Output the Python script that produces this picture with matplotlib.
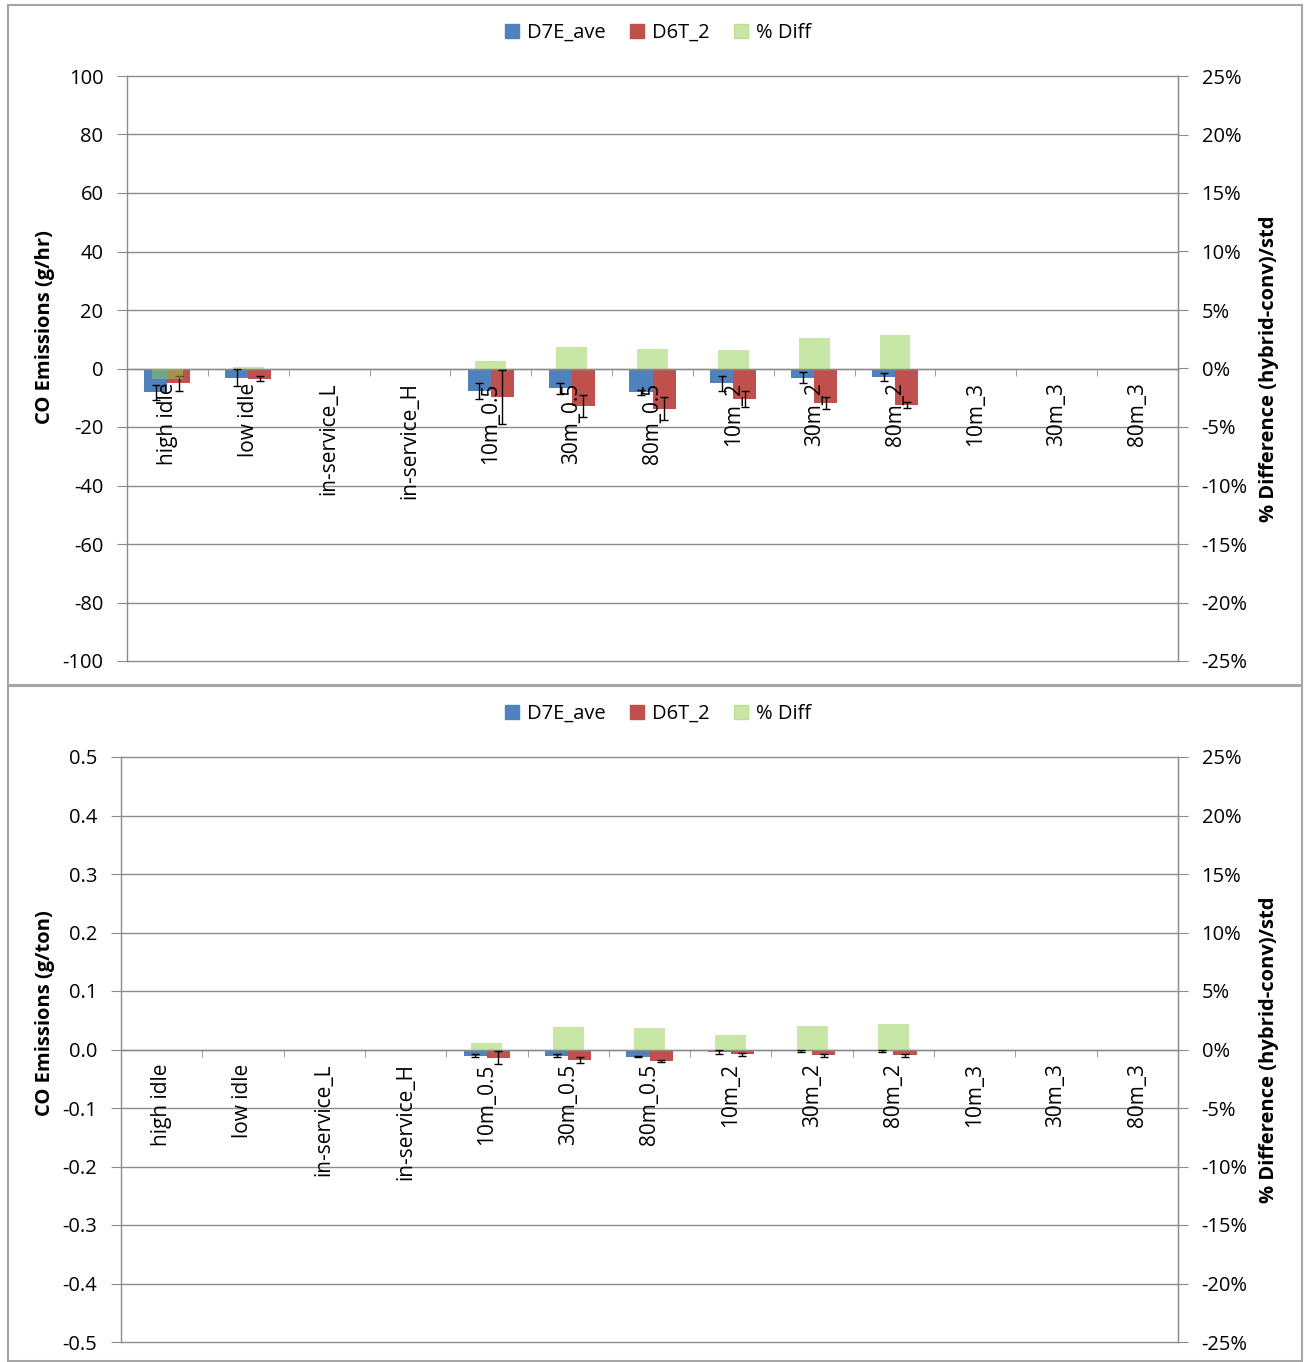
import numpy as np
import matplotlib
matplotlib.use("Agg")
import matplotlib.pyplot as plt
from matplotlib.patches import Rectangle, Patch
from matplotlib.ticker import PercentFormatter, MultipleLocator, FixedLocator

plt.rcParams['font.family'] = ['Open Sans', 'DejaVu Sans']
plt.rcParams['axes.unicode_minus'] = False

# ----------------------------------- data -----------------------------------
categories = ['high idle', 'low idle', 'in-service_L', 'in-service_H',
              '10m_0.5', '30m_0.5', '80m_0.5', '10m_2', '30m_2', '80m_2',
              '10m_3', '30m_3', '80m_3']
nan = np.nan

# top chart, g/hr
d7e_hr = [-8.2, -3.2, nan, nan, -7.6, -6.8, -8.2, -5.1, -3.2, -3.0, nan, nan, nan]
d7e_hr_err = [2.6, 2.9, nan, nan, 2.7, 2.0, 1.0, 2.6, 1.9, 1.3, nan, nan, nan]
d6t_hr = [-5.0, -3.5, nan, nan, -9.7, -12.8, -13.7, -10.5, -11.9, -12.4, nan, nan, nan]
d6t_hr_err = [2.6, 0.85, nan, nan, 9.3, 3.7, 4.0, 2.7, 2.1, 1.0, nan, nan, nan]
diff_hr = [-0.009, 0.0011, nan, nan, 0.006, 0.0182, 0.0165, 0.016, 0.026, 0.0285, nan, nan, nan]

# bottom chart, g/ton
d7e_ton = [nan, nan, nan, nan, -0.0103, -0.0103, -0.0125, -0.0046, -0.003, -0.003, nan, nan, nan]
d7e_ton_err = [nan, nan, nan, nan, 0.003, 0.002, 0.001, 0.003, 0.002, 0.002, nan, nan, nan]
d6t_ton = [nan, nan, nan, nan, -0.014, -0.018, -0.020, -0.0085, -0.010, -0.010, nan, nan, nan]
d6t_ton_err = [nan, nan, nan, nan, 0.011, 0.005, 0.002, 0.003, 0.003, 0.002, nan, nan, nan]
diff_ton = [nan, nan, nan, nan, 0.0057, 0.0194, 0.018, 0.012, 0.0205, 0.022, nan, nan, nan]

W, H = 1304, 1362
BLUE = '#4F81BD'
RED = '#C0504D'
GREEN = '#92D050'
GRAY = '#8C8C8C'
FS = 14.5


def fig_rect(left, top, right, bottom):
    return [left / W, 1 - bottom / H, (right - left) / W, (bottom - top) / H]


def draw_panel(fig, rect, blue, blue_err, red, red_err, diff, ylim, ystep,
               ylabel, yfmt, left_lab_x, left_lab_y, right_lab_x):
    ax = fig.add_axes(rect)
    x = np.arange(len(categories))
    bw = 0.285
    ax.bar(x - bw / 2, blue, bw, color=BLUE, zorder=2)
    ax.bar(x + bw / 2, red, bw, color=RED, zorder=2)
    ax.errorbar(x - bw / 2, blue, yerr=blue_err, fmt='none', ecolor='black',
                elinewidth=1, capsize=3, capthick=1, zorder=3)
    ax.errorbar(x + bw / 2, red, yerr=red_err, fmt='none', ecolor='black',
                elinewidth=1, capsize=3, capthick=1, zorder=3)

    ax.set_xlim(-0.5, len(categories) - 0.5)
    ax.set_ylim(*ylim)
    ax.yaxis.set_major_locator(MultipleLocator(ystep))
    ax.yaxis.set_major_formatter(yfmt)
    ax.grid(axis='y', color=GRAY, lw=1, zorder=0)
    ax.set_axisbelow(True)
    for gl in ax.get_ygridlines():
        gl.set_clip_on(False)

    ax.spines['top'].set_visible(False)
    ax.spines['bottom'].set_position(('data', 0))
    for s in ['left', 'right', 'bottom']:
        ax.spines[s].set_color(GRAY)
        ax.spines[s].set_linewidth(1)

    # category labels sit on top of the bars, as in the original chart
    ax.xaxis.set_zorder(3.5)
    ax.xaxis.set_major_locator(FixedLocator(x))
    ax.set_xticklabels(categories, rotation=90, va='top', ha='center', fontsize=FS + 0.5)
    ax.tick_params(axis='x', which='major', length=0, pad=10)
    ax.xaxis.set_minor_locator(FixedLocator(np.arange(-0.5, len(categories), 1)))
    ax.tick_params(axis='x', which='minor', length=5, direction='out', color=GRAY)
    ax.tick_params(axis='y', length=7, color=GRAY, labelsize=FS, pad=10)

    ax.set_ylabel(ylabel, fontsize=FS, fontweight='bold')
    ax.yaxis.set_label_coords(left_lab_x, left_lab_y)

    ax2 = ax.twinx()
    ax2.bar(x, diff, 0.38, color=GREEN, alpha=0.5, zorder=2)
    ax2.set_ylim(-0.25, 0.25)
    ax2.yaxis.set_major_locator(MultipleLocator(0.05))
    ax2.yaxis.set_major_formatter(PercentFormatter(1.0, decimals=0))
    ax2.tick_params(axis='y', length=7, color=GRAY, labelsize=FS, pad=10)
    for s in ['top', 'bottom', 'left']:
        ax2.spines[s].set_visible(False)
    ax2.spines['right'].set_color(GRAY)
    ax2.set_ylabel('% Difference (hybrid-conv)/std', fontsize=FS, fontweight='bold')
    ax2.yaxis.set_label_coords(right_lab_x, 0.5)
    return ax


fig = plt.figure(figsize=(W / 100, H / 100), dpi=100)

# panel frames
for top, bottom in [(5, 685), (686, 1361)]:
    fig.add_artist(Rectangle((8 / W, 1 - bottom / H), (1302 - 8) / W, (bottom - top) / H,
                             transform=fig.transFigure, fill=False,
                             edgecolor='#A6A6A6', lw=1.5))

draw_panel(fig, fig_rect(127, 76, 1178, 661), d7e_hr, d7e_hr_err, d6t_hr, d6t_hr_err,
           diff_hr, (-100, 100), 20, 'CO Emissions (g/hr)',
           plt.FuncFormatter(lambda v, p: f'{v:.0f}'), -0.0685, 0.571, 1.077)
draw_panel(fig, fig_rect(121, 757, 1178, 1342), d7e_ton, d7e_ton_err, d6t_ton, d6t_ton_err,
           diff_ton, (-0.5, 0.5), 0.1, 'CO Emissions (g/ton)',
           plt.FuncFormatter(lambda v, p: f'{v:.1f}'), -0.0624, 0.562, 1.0766)

handles = [Patch(color=BLUE, label='D7E_ave'), Patch(color=RED, label='D6T_2'),
           Patch(color=GREEN, alpha=0.5, label='% Diff')]
for ly in [33, 714]:
    fig.legend(handles=handles, loc='center', bbox_to_anchor=(658 / W, 1 - ly / H),
               ncol=3, frameon=False, fontsize=FS, handlelength=0.7, handleheight=0.7,
               handletextpad=0.4, columnspacing=1.2)

plt.savefig('out.png', dpi=100)
